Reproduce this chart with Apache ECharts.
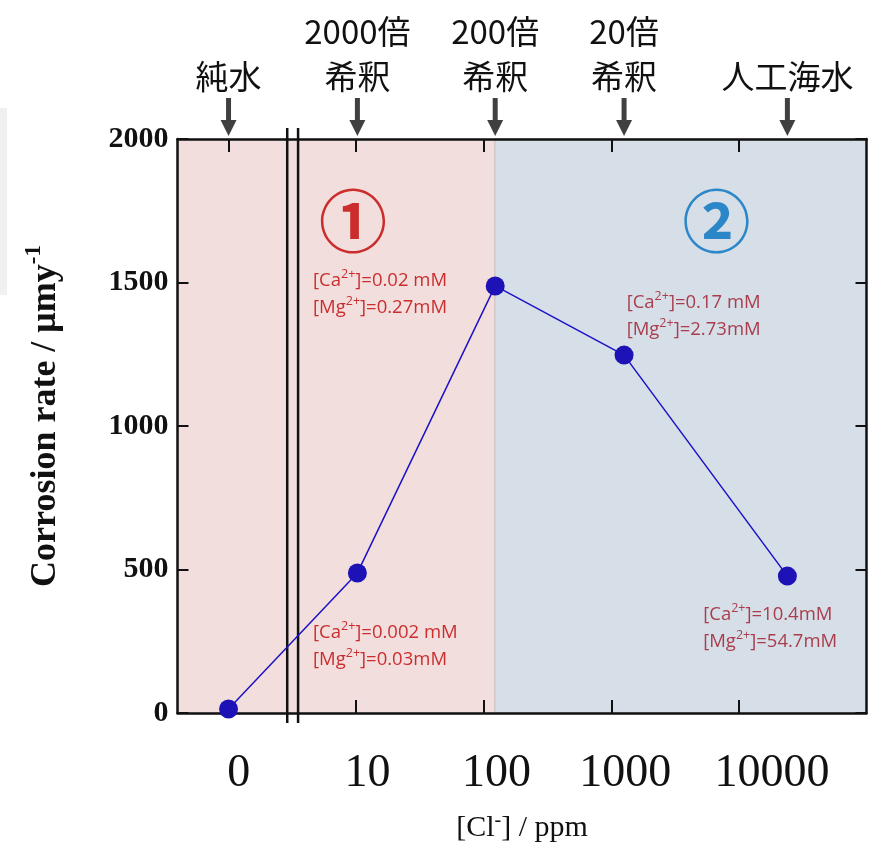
<!DOCTYPE html>
<html>
<head>
<meta charset="utf-8">
<script src="https://cdn.jsdelivr.net/npm/echarts@6/dist/echarts.min.js"></script>
<style>
  html, body { margin: 0; padding: 0; background: #ffffff; }
  #chart { width: 883px; height: 844px; }
</style>
</head>
<body>
<div id="chart"></div>
<script>
// 横軸：目盛り位置（対数の段ごとに 1 単位、0 ppm は折れ線の左側）
const xTickVals = [0, 1, 2, 3, 4];
const xLabelPos = [0.08, 1.09, 2.10, 3.11, 4.26];
const xLabels = ['0', '10', '100', '1000', '10000'];

// 上部の試料名
const sampleNames = ['純水', '2000倍\n希釈', '200倍\n希釈', '20倍\n希釈', '人工海水'];

// 測定点
const pointX = [0.0, 1.01, 2.09, 3.10, 4.38];
const corrosionRate = [14, 488, 1488, 1247, 477];

// 軸の切れ目と領域の境界
const breakX = [0.46, 0.545];
const regionEdge = 2.087;

// 濃度の注記（データ座標）
const noteX = [0.662, 0.662, 3.12, 3.72];
const noteY = [1460, 232, 1382, 296];
const noteCa = ['0.02 mM', '0.002 mM', '0.17 mM', '10.4mM'];
const noteMg = ['0.27mM', '0.03mM', '2.73mM', '54.7mM'];
const noteColor = ['#c00000', '#c00000', '#9e1426', '#9e1426'];

// 領域番号
const regionMarkX = [0.975, 3.825];
const regionMarkY = [1712, 1712];
const regionMarks = ['①', '②'];
const regionMarkColor = ['#c00000', '#0070c0'];

const X_MIN = -0.4;
const X_MAX = 5;

const chart = echarts.init(document.getElementById('chart'));

const serif = 'Liberation Serif, Times New Roman, serif';
const cjk = 'Noto Sans CJK JP, sans-serif';
const noteFont = 'Open Sans, Noto Sans, sans-serif';

const nearestIndex = (arr, v) => {
  let best = 0;
  arr.forEach((a, i) => { if (Math.abs(a - v) < Math.abs(arr[best] - v)) best = i; });
  return best;
};

const axisLineStyle = { color: '#111111', width: 2.5 };

const option = {
  backgroundColor: '#ffffff',
  animation: false,
  grid: {
    left: 177.5, right: 16.5, top: 139, bottom: 131,
    containLabel: false,
    outerBoundsMode: 'none'
  },
  graphic: [
    { type: 'rect', left: 0, top: 108, shape: { width: 7, height: 187 }, style: { fill: '#f0f0f0' }, z: 0 }
  ],
  xAxis: [
    {
      type: 'value',
      position: 'bottom',
      min: X_MIN,
      max: X_MAX,
      z: 5,
      splitLine: { show: false },
      axisLine: { onZero: false, lineStyle: axisLineStyle },
      axisTick: { inside: true, length: 13, customValues: xTickVals, lineStyle: { color: '#111', width: 2 } },
      axisLabel: {
        customValues: xLabelPos,
        margin: 38,
        fontFamily: serif,
        fontSize: 46,
        color: '#111',
        formatter: (v) => xLabels[nearestIndex(xLabelPos, v)]
      },
      name: '[Cl{sup|-}] / ppm',
      nameLocation: 'middle',
      nameGap: 98,
      nameTextStyle: {
        fontFamily: serif,
        fontSize: 30,
        color: '#111',
        rich: {
          sup: { fontFamily: serif, fontSize: 20, padding: [0, 0, 14, 0], color: '#111' }
        }
      }
    },
    {
      type: 'value',
      position: 'top',
      min: X_MIN,
      max: X_MAX,
      z: 5,
      splitLine: { show: false },
      axisLine: { onZero: false, lineStyle: axisLineStyle },
      axisTick: { inside: true, length: 13, customValues: xTickVals, lineStyle: { color: '#111', width: 2 } },
      axisLabel: {
        customValues: pointX,
        margin: 40,
        fontFamily: cjk,
        fontSize: 33,
        lineHeight: 45,
        color: '#111',
        formatter: (v) => sampleNames[nearestIndex(pointX, v)]
      }
    }
  ],
  yAxis: [
    {
      type: 'value',
      position: 'left',
      min: 0,
      max: 2000,
      interval: 500,
      z: 5,
      splitLine: { show: false },
      axisLine: { show: true, onZero: false, lineStyle: axisLineStyle },
      axisTick: { show: true, inside: true, length: 11, lineStyle: { color: '#111', width: 2 } },
      axisLabel: {
        margin: 9,
        fontFamily: serif,
        fontWeight: 'bold',
        fontSize: 30,
        color: '#111',
        formatter: (v) => String(v)
      },
      name: 'Corrosion rate / μmy{sup|-1}',
      nameLocation: 'middle',
      nameRotate: 90,
      nameGap: 108,
      nameTextStyle: {
        fontFamily: serif,
        fontWeight: 'bold',
        fontSize: 36,
        color: '#111',
        padding: [0, 0, 0, 20],
        rich: {
          sup: { fontFamily: serif, fontWeight: 'bold', fontSize: 23, padding: [0, 0, 24, 0], color: '#111' }
        }
      }
    },
    {
      type: 'value',
      position: 'right',
      min: 0,
      max: 2000,
      interval: 500,
      z: 5,
      splitLine: { show: false },
      axisLine: { show: true, onZero: false, lineStyle: axisLineStyle },
      axisTick: { show: true, inside: true, length: 11, lineStyle: { color: '#111', width: 2 } },
      axisLabel: { show: false }
    }
  ],
  series: [
    {
      // 背景の領域 ① / ②
      name: 'regions',
      type: 'line',
      data: [],
      z: 1,
      silent: true,
      markArea: {
        silent: true,
        data: [
          [{ xAxis: X_MIN, itemStyle: { color: '#f2dedd' } }, { xAxis: regionEdge }],
          [{ xAxis: regionEdge, itemStyle: { color: '#d6dee7', borderColor: '#c9bcbc', borderWidth: 1 } }, { xAxis: X_MAX }]
        ]
      }
    },
    {
      // 軸の切れ目（二重線）
      name: 'break',
      type: 'custom',
      clip: false,
      silent: true,
      z: 6,
      data: breakX.map(x => [x, 0]),
      renderItem: (params, api) => {
        const top = api.coord([api.value(0), 2000]);
        const bottom = api.coord([api.value(0), 0]);
        return {
          type: 'line',
          shape: { x1: top[0], y1: top[1] - 11, x2: bottom[0], y2: bottom[1] + 10 },
          style: { stroke: '#111', lineWidth: 2.5 }
        };
      }
    },
    {
      // 上部の矢印
      name: 'arrows',
      type: 'custom',
      clip: false,
      silent: true,
      z: 6,
      data: pointX.map(x => [x, 2000]),
      renderItem: (params, api) => {
        const p = api.coord([api.value(0), api.value(1)]);
        const x = p[0];
        const tip = p[1] - 3;
        return {
          type: 'group',
          children: [
            { type: 'rect', shape: { x: x - 2.5, y: tip - 38, width: 5, height: 24 }, style: { fill: '#404040' } },
            { type: 'polygon', shape: { points: [[x - 8, tip - 16], [x + 8, tip - 16], [x, tip]] }, style: { fill: '#404040' } }
          ]
        };
      }
    },
    {
      name: 'Corrosion rate',
      type: 'line',
      z: 8,
      data: pointX.map((x, i) => [x, corrosionRate[i]]),
      symbol: 'circle',
      symbolSize: 19,
      itemStyle: { color: '#1c12b6' },
      lineStyle: { color: '#1c12c8', width: 1.5 }
    },
    {
      // 濃度注記
      name: 'notes',
      type: 'scatter',
      z: 7,
      silent: true,
      symbolSize: 0,
      data: noteX.map((x, i) => ({
        value: [x, noteY[i]],
        label: {
          show: true,
          position: 'right',
          distance: 0,
          fontFamily: noteFont,
          fontSize: 18.5,
          lineHeight: 27,
          color: noteColor[i],
          formatter: '[Ca{sup|2+}]=' + noteCa[i] + '\n[Mg{sup|2+}]=' + noteMg[i],
          rich: {
            sup: { fontFamily: noteFont, fontSize: 12.5, padding: [0, 0, 13, 0], color: noteColor[i] }
          }
        }
      }))
    },
    {
      // 領域番号
      name: 'regionMarks',
      type: 'scatter',
      z: 7,
      silent: true,
      symbolSize: 0,
      data: regionMarkX.map((x, i) => ({
        value: [x, regionMarkY[i]],
        label: {
          show: true,
          position: 'inside',
          fontFamily: cjk,
          fontWeight: 'bold',
          fontSize: 68,
          color: regionMarkColor[i],
          formatter: regionMarks[i]
        }
      }))
    }
  ]
};

chart.setOption(option);
window.addEventListener('resize', () => chart.resize());
</script>
</body>
</html>
